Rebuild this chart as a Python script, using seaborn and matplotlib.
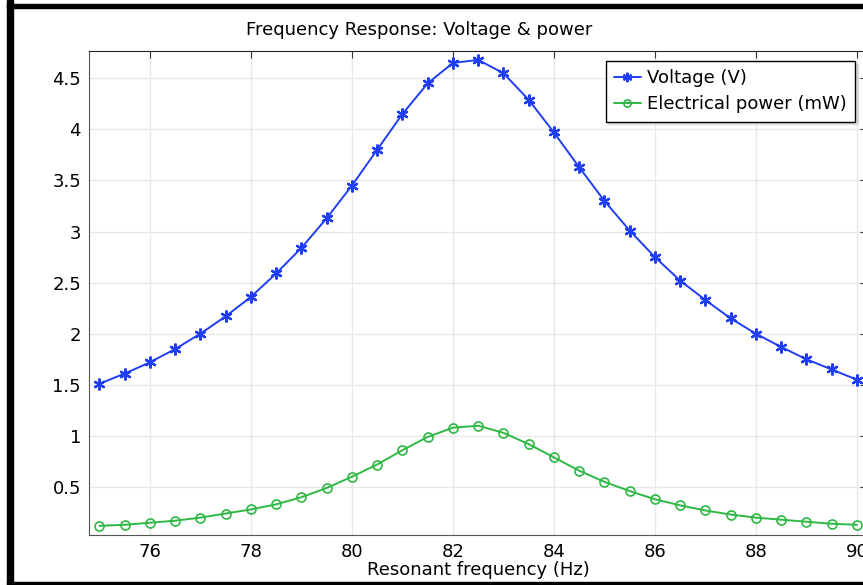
import numpy as np
import pandas as pd
import matplotlib
matplotlib.use("Agg")
import matplotlib.pyplot as plt
import seaborn as sns
from matplotlib.ticker import FuncFormatter, MultipleLocator

# values
freq = [75, 75.5, 76, 76.5, 77, 77.5, 78, 78.5, 79, 79.5, 80, 80.5, 81, 81.5, 82, 82.5,
        83, 83.5, 84, 84.5, 85, 85.5, 86, 86.5, 87, 87.5, 88, 88.5, 89, 89.5, 90]
voltage = [1.51, 1.61, 1.72, 1.85, 2.00, 2.17, 2.36, 2.59, 2.84, 3.13, 3.45, 3.80, 4.15, 4.45,
           4.65, 4.68, 4.55, 4.29, 3.97, 3.63, 3.30, 3.01, 2.75, 2.52, 2.33, 2.15, 2.00, 1.87,
           1.75, 1.65, 1.55]
power = [0.12, 0.13, 0.15, 0.17, 0.20, 0.24, 0.28, 0.33, 0.40, 0.49, 0.60, 0.72, 0.86, 0.99,
         1.08, 1.10, 1.03, 0.92, 0.79, 0.66, 0.55, 0.46, 0.38, 0.32, 0.27, 0.23, 0.20, 0.18,
         0.16, 0.14, 0.13]
series_names = ["Voltage (V)", "Electrical power (mW)"]

df = pd.DataFrame({"freq": freq, series_names[0]: voltage, series_names[1]: power})

sns.set_style("white")
plt.rcParams['font.family'] = ['DejaVu Sans']
plt.rcParams['text.color'] = 'black'
plt.rcParams['xtick.color'] = 'black'
plt.rcParams['ytick.color'] = 'black'
plt.rcParams['axes.labelcolor'] = 'black'

W, H = 863, 585
fig = plt.figure(figsize=(W / 100, H / 100), dpi=100)
ax = fig.add_axes([89.3 / W, 1 - 535 / H, (867 - 89.3) / W, (535 - 50.7) / H])

blue = "#1f3ef5"
green = "#2fb844"
sns.lineplot(data=df, x="freq", y=series_names[0], ax=ax, color=blue, lw=1.4,
             marker=(6, 2, 0), markersize=8.5, markeredgewidth=1.6, markeredgecolor=blue,
             label=series_names[0])
sns.lineplot(data=df, x="freq", y=series_names[1], ax=ax, color=green, lw=1.4,
             marker="o", markersize=6.5, markerfacecolor="none", markeredgewidth=1.2,
             markeredgecolor=green, label=series_names[1])

ax.set_xlim(74.8, 90.2)
ax.set_ylim(0.03, 4.77)
ax.xaxis.set_major_locator(MultipleLocator(2))
ax.yaxis.set_major_locator(MultipleLocator(0.5))
ax.yaxis.set_major_formatter(FuncFormatter(lambda v, p: "%g" % v))
ax.tick_params(direction="in", length=5, labelsize=13, top=True, right=True,
               color="#333333", pad=6)
ax.grid(True, color="#e8e8e8", lw=1)
for s in ["left", "bottom"]:
    ax.spines[s].set_color("#555555")
ax.spines["top"].set_color("#222222")
ax.set_ylabel("")
ax.set_xlabel("Resonant frequency (Hz)", fontsize=13, labelpad=0)

leg = ax.legend(loc="upper right", bbox_to_anchor=((855 - 89.3) / (867 - 89.3), 1 - 10.5 / 484.3),
                fontsize=13, frameon=True, fancybox=False, shadow={"color": "#c8c8c8"},
                framealpha=1, edgecolor="black", handlelength=1.5, handletextpad=0.35,
                borderpad=0.45, labelspacing=0.45, borderaxespad=0, markerscale=0.8)
leg.get_frame().set_linewidth(1.0)

fig.text(419 / W, 1 - 30 / H, "Frequency Response: Voltage & power", ha="center",
         va="center", fontsize=13)

# black frame bits around the exported picture
fig.patches.append(plt.Rectangle((7 / W, 0), 5.5 / W, 1, transform=fig.transFigure,
                                 color="black", zorder=10))
fig.patches.append(plt.Rectangle((7 / W, 1 - 7.5 / H), 1, 3.5 / H, transform=fig.transFigure,
                                 color="black", zorder=10))
fig.patches.append(plt.Rectangle((7 / W, 1 - 584 / H), 1, 2 / H, transform=fig.transFigure,
                                 color="black", zorder=10))

fig.savefig("out.png", dpi=100)
